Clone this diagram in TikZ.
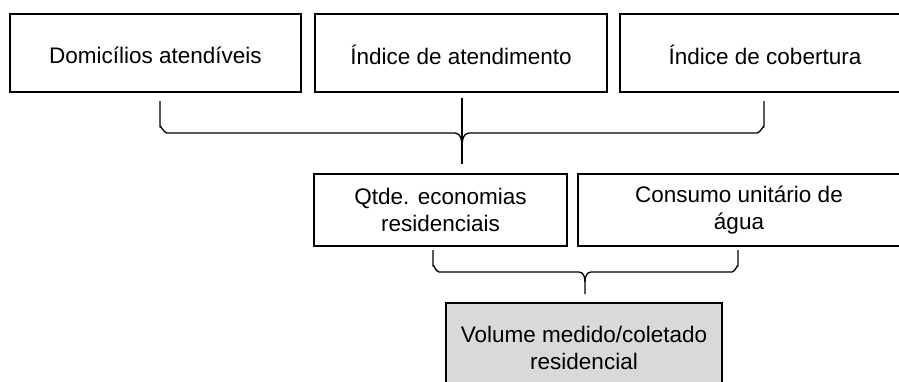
\documentclass[tikz,border=0pt]{standalone}
\usepackage{fontspec}
\setmainfont{Liberation Sans}
\definecolor{boxgray}{HTML}{D9D9D9}
\newcommand{\lowtxt}[1]{\raisebox{-2pt}[\height][\depth]{#1}}
\begin{document}
\begin{tikzpicture}[x=1pt,y=-1pt,
  box/.style={draw=black,line width=1.2pt,fill=white,rectangle,inner sep=0pt,align=center,
    font=\fontsize{22.5}{27}\selectfont},
  brace/.style={draw=black,line width=1.3pt,line join=round}]
\useasboundingbox (0,0) rectangle (899,381);
\begin{scope}
\clip (0,0) rectangle (899,381);
\node[box,minimum width=291pt,minimum height=78pt] (dom) at (155.5,53) {\lowtxt{Domicílios atendíveis}};
\node[box,minimum width=292pt,minimum height=78pt] (ida) at (461,53) {\lowtxt{Índice de atendimento}};
\node[box,minimum width=290pt,minimum height=78pt] (idc) at (765,53) {\lowtxt{Índice de cobertura}};
\node[box,minimum width=253pt,minimum height=72pt] (qtd) at (440.5,210) {Qtde. economias\\residenciais};
\node[box,minimum width=322pt,minimum height=72pt] (cons) at (739,210) {Consumo unitário de\\água};
\node[box,fill=boxgray,minimum width=276pt,minimum height=90pt] (vol) at (584,348) {Volume medido/coletado\\residencial};
\end{scope}
% brace 1
\coordinate (b1l) at (160,101);
\coordinate (b1r) at (764,101);
\coordinate (b1t) at (462,98);
\coordinate (b1b) at (462,164);
\draw[brace] (b1l) -- (160,127) to[out=90,in=180] (167,133) -- (455,133)
  to[out=0,in=90] (462,147);
\draw[brace] (b1r) -- (764,127) to[out=90,in=0] (757,133) -- (469,133)
  to[out=180,in=90] (462,147);
\draw[brace] (b1t) -- (b1b);
% brace 2
\coordinate (b2l) at (433,250);
\coordinate (b2r) at (738,250);
\coordinate (b2b) at (585,294);
\draw[brace] (b2l) -- (433,266) to[out=90,in=180] (439,272) -- (579,272)
  to[out=0,in=90] (585,282) -- (b2b);
\draw[brace] (b2r) -- (738,266) to[out=90,in=0] (732,272) -- (591,272)
  to[out=180,in=90] (585,282);
\end{tikzpicture}
\end{document}
